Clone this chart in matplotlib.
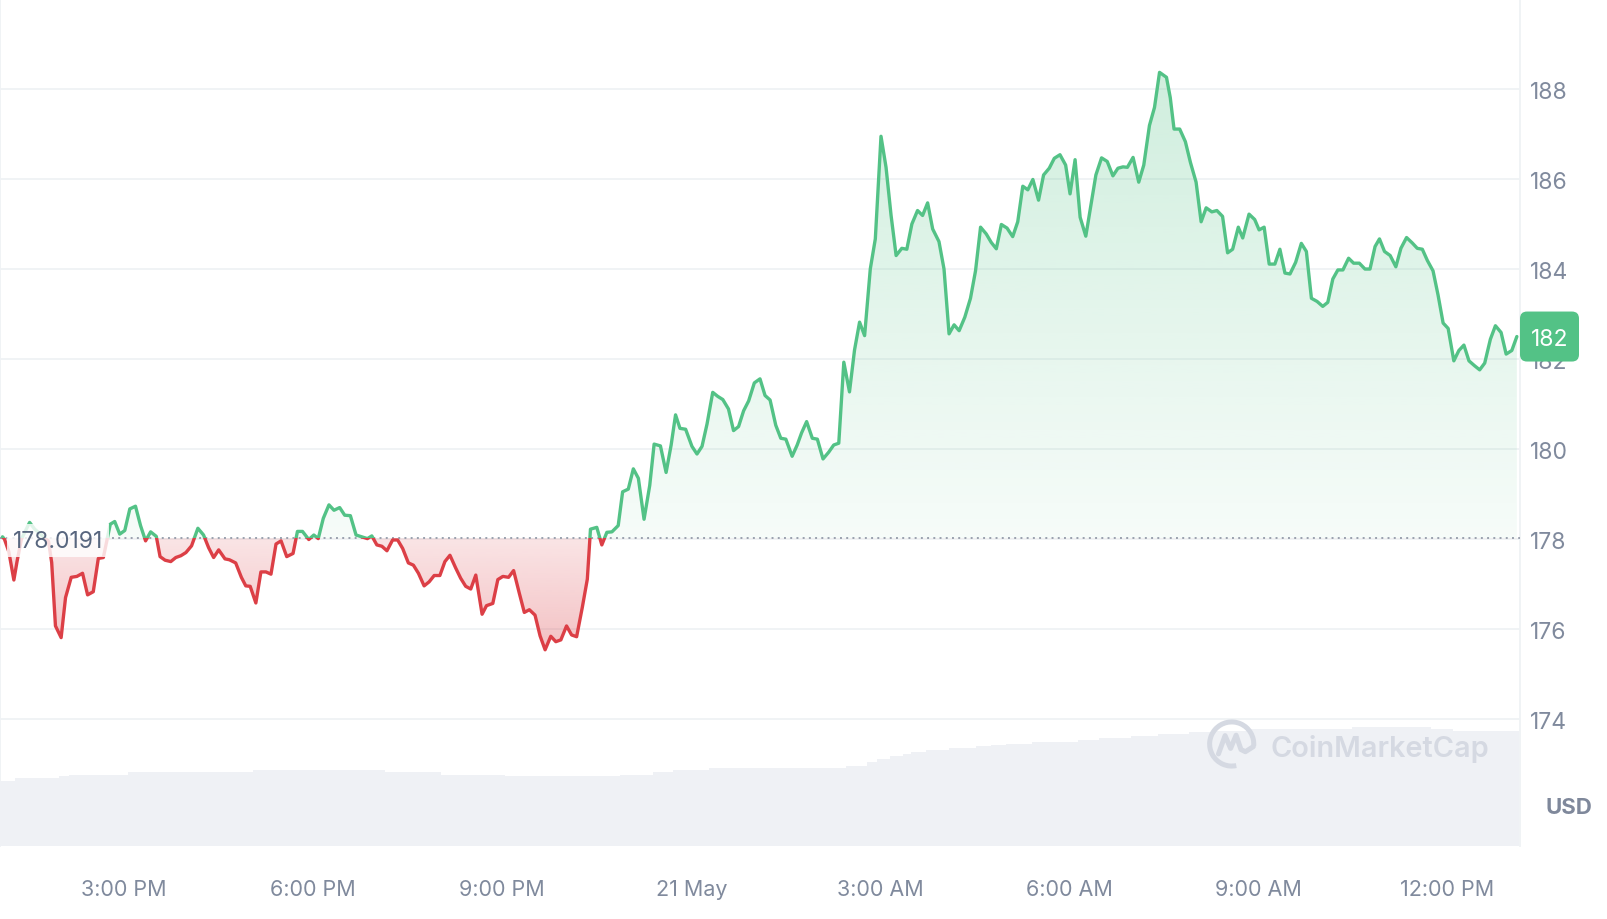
# Price chart, 24h, CoinMarketCap look
import numpy as np
import matplotlib
matplotlib.use('Agg')
from matplotlib import pyplot as plt
from matplotlib.patches import Rectangle, FancyBboxPatch, Arc
from matplotlib.transforms import IdentityTransform
import matplotlib.colors as mcolors

plt.rcParams['font.family'] = ['Inter', 'DejaVu Sans']

# hours since 00:00 on 20 May (24 = 21 May 00:00), price in USD
hours = [13.07, 13.10, 13.17, 13.25, 13.30, 13.37, 13.50, 13.58, 13.68, 13.80,
         13.85, 13.91, 14.00, 14.07, 14.16, 14.25, 14.34, 14.42, 14.51, 14.59,
         14.67, 14.78, 14.85, 14.93, 15.01, 15.09, 15.18, 15.26, 15.34, 15.42,
         15.51, 15.57, 15.65, 15.74, 15.82, 15.90, 15.98, 16.07, 16.17, 16.26,
         16.34, 16.42, 16.50, 16.60, 16.67, 16.77, 16.86, 16.93, 17.00, 17.09,
         17.17, 17.25, 17.33, 17.41, 17.49, 17.58, 17.68, 17.75, 17.83, 17.93,
         18.01, 18.08, 18.16, 18.25, 18.33, 18.42, 18.50, 18.59, 18.68, 18.77,
         18.86, 18.93, 19.01, 19.09, 19.17, 19.26, 19.34, 19.42, 19.51, 19.59,
         19.67, 19.76, 19.84, 19.92, 20.01, 20.09, 20.17, 20.26, 20.34, 20.42,
         20.50, 20.58, 20.68, 20.75, 20.85, 20.93, 21.01, 21.10, 21.18, 21.27,
         21.35, 21.43, 21.52, 21.60, 21.68, 21.77, 21.85, 21.93, 22.02, 22.10,
         22.18, 22.27, 22.35, 22.40, 22.50, 22.58, 22.66, 22.74, 22.84, 22.91,
         23.00, 23.08, 23.16, 23.25, 23.34, 23.41, 23.51, 23.60, 23.68, 23.75,
         23.82, 23.91, 24.01, 24.09, 24.17, 24.25, 24.34, 24.42, 24.50, 24.59,
         24.67, 24.75, 24.83, 24.91, 25.00, 25.09, 25.17, 25.25, 25.34, 25.42,
         25.50, 25.60, 25.68, 25.75, 25.83, 25.92, 26.00, 26.09, 26.18, 26.26,
         26.34, 26.42, 26.51, 26.59, 26.67, 26.75, 26.84, 26.92, 27.01, 27.09,
         27.17, 27.25, 27.34, 27.42, 27.50, 27.59, 27.67, 27.75, 27.83, 27.93,
         28.01, 28.09, 28.17, 28.25, 28.34, 28.43, 28.51, 28.59, 28.68, 28.76,
         28.84, 28.92, 29.01, 29.10, 29.18, 29.26, 29.34, 29.42, 29.51, 29.59,
         29.68, 29.76, 29.85, 29.94, 30.01, 30.09, 30.17, 30.26, 30.34, 30.42,
         30.51, 30.60, 30.69, 30.77, 30.85, 30.92, 31.01, 31.10, 31.18, 31.27,
         31.35, 31.43, 31.54, 31.60, 31.66, 31.75, 31.84, 31.92, 32.01, 32.09,
         32.17, 32.26, 32.34, 32.43, 32.51, 32.59, 32.68, 32.75, 32.85, 32.94,
         33.01, 33.09, 33.17, 33.26, 33.34, 33.42, 33.50, 33.59, 33.68, 33.76,
         33.84, 33.93, 34.02, 34.10, 34.18, 34.26, 34.34, 34.43, 34.51, 34.60,
         34.69, 34.77, 34.85, 34.92, 35.00, 35.09, 35.18, 35.26, 35.35, 35.44,
         35.52, 35.60, 35.68, 35.77, 35.85, 35.93, 36.01, 36.10, 36.18, 36.26,
         36.34, 36.43, 36.51, 36.59, 36.68, 36.76, 36.85, 36.93, 37.02, 37.10]
price = [178.05, 178.00, 177.72, 177.09, 177.50, 178.00, 178.37, 178.22, 178.10, 177.95,
         177.48, 176.07, 175.81, 176.70, 177.15, 177.17, 177.24, 176.76, 176.83, 177.57,
         177.59, 178.33, 178.39, 178.11, 178.19, 178.67, 178.73, 178.30, 177.96, 178.16,
         178.06, 177.61, 177.53, 177.50, 177.59, 177.63, 177.70, 177.85, 178.24, 178.09,
         177.81, 177.59, 177.76, 177.56, 177.54, 177.47, 177.15, 176.96, 176.95, 176.58,
         177.27, 177.27, 177.22, 177.89, 177.96, 177.61, 177.68, 178.17, 178.17, 177.99,
         178.09, 178.01, 178.46, 178.76, 178.64, 178.70, 178.53, 178.52, 178.09, 178.05,
         178.01, 178.07, 177.87, 177.84, 177.74, 177.98, 177.98, 177.79, 177.47, 177.42,
         177.24, 176.96, 177.05, 177.19, 177.19, 177.50, 177.64, 177.36, 177.13, 176.95,
         176.89, 177.20, 176.33, 176.52, 176.57, 177.10, 177.17, 177.15, 177.30, 176.80,
         176.37, 176.43, 176.31, 175.85, 175.54, 175.84, 175.72, 175.76, 176.07, 175.87,
         175.83, 176.48, 177.11, 178.22, 178.26, 177.87, 178.15, 178.16, 178.30, 179.05,
         179.11, 179.56, 179.35, 178.44, 179.19, 180.11, 180.07, 179.48, 180.09, 180.76,
         180.46, 180.44, 180.06, 179.89, 180.06, 180.56, 181.26, 181.17, 181.10, 180.89,
         180.41, 180.50, 180.85, 181.07, 181.47, 181.56, 181.19, 181.09, 180.53, 180.24,
         180.22, 179.84, 180.09, 180.36, 180.61, 180.24, 180.22, 179.78, 179.93, 180.09,
         180.13, 181.93, 181.27, 182.20, 182.82, 182.52, 184.00, 184.67, 186.95, 186.26,
         185.19, 184.30, 184.46, 184.44, 185.00, 185.30, 185.19, 185.47, 184.89, 184.61,
         184.00, 182.56, 182.76, 182.63, 182.93, 183.35, 183.96, 184.93, 184.78, 184.59,
         184.45, 184.99, 184.91, 184.72, 185.05, 185.84, 185.76, 185.99, 185.53, 186.09,
         186.24, 186.46, 186.54, 186.31, 185.67, 186.43, 185.15, 184.73, 185.41, 186.09,
         186.47, 186.39, 186.07, 186.24, 186.27, 186.26, 186.48, 185.93, 186.31, 187.19,
         187.59, 188.37, 188.26, 187.81, 187.11, 187.11, 186.83, 186.37, 185.93, 185.05,
         185.36, 185.27, 185.30, 185.17, 184.36, 184.44, 184.93, 184.69, 185.22, 185.10,
         184.87, 184.93, 184.11, 184.11, 184.44, 183.91, 183.89, 184.15, 184.57, 184.39,
         183.35, 183.28, 183.17, 183.26, 183.78, 183.98, 183.98, 184.24, 184.13, 184.13,
         184.00, 184.00, 184.50, 184.67, 184.39, 184.30, 184.05, 184.46, 184.70, 184.58,
         184.46, 184.44, 184.19, 183.96, 183.42, 182.80, 182.68, 181.96, 182.19, 182.31,
         181.96, 181.85, 181.76, 181.91, 182.44, 182.74, 182.59, 182.11, 182.19, 182.50]
base_price = 178.0191

# volume shading (relative level) as steps between these hours
vol_edges = [13.03, 13.27, 13.97, 14.13, 15.06, 17.05, 19.14, 20.03, 21.05, 22.87,
             23.40, 23.71, 24.28, 26.46, 26.79, 26.95, 27.16, 27.36, 27.49, 27.73,
             28.09, 28.51, 28.76, 29.00, 29.41, 30.14, 30.47, 30.97, 31.41, 31.90,
             32.27, 32.84, 34.49, 35.74, 36.08, 37.14]
vol_level = [0.65, 0.68, 0.70, 0.71, 0.74, 0.76, 0.74, 0.71, 0.70, 0.71,
             0.74, 0.76, 0.78, 0.80, 0.84, 0.87, 0.90, 0.92, 0.94, 0.96,
             0.98, 1.00, 1.01, 1.02, 1.04, 1.06, 1.08, 1.10, 1.12, 1.14,
             1.15, 1.17, 1.19, 1.17, 1.15]

tick_hours = [15, 18, 21, 24, 27, 30, 33, 36]
tick_labels = ['3:00 PM', '6:00 PM', '9:00 PM', '21 May', '3:00 AM', '6:00 AM', '9:00 AM', '12:00 PM']
price_ticks = [174, 176, 178, 180, 182, 184, 186, 188]

green = '#53c286'
red = '#dc3f46'
grid_c = '#eff2f5'
text_c = '#808a9d'

W, H = 1608, 920
x_lim = (13.03, 37.15)
y_lim = (171.18, 190.0)

fig = plt.figure(figsize=(W / 100, H / 100), dpi=100)
rect = [0, 73 / H, 1520 / W, 847 / H]

# volume in the back
ax_vol = fig.add_axes(rect)
ax_vol.bar(vol_edges[:-1], vol_level, width=np.diff(vol_edges), align='edge',
           color='#eff1f5', linewidth=0)
ax_vol.set_xlim(*x_lim)
ax_vol.set_ylim(0, 8.47)
ax_vol.axis('off')

ax = fig.add_axes(rect)
ax.patch.set_alpha(0)
ax.set_xlim(*x_lim)
ax.set_ylim(*y_lim)


def grad_fill(y0, y1, color, a0, a1):
    # gradient image clipped to the area between the line and the base price
    poly = ax.fill_between(hours, price, base_price, facecolor='none', edgecolor='none')
    path = poly.get_paths()[0]
    alphas = np.linspace(a0, a1, 256)
    img = np.zeros((256, 1, 4))
    img[..., :3] = mcolors.to_rgb(color)
    img[:, 0, 3] = alphas
    im = ax.imshow(img, extent=[x_lim[0], x_lim[1], y0, y1], origin='lower',
                   aspect='auto', zorder=1, interpolation='bilinear')
    im.set_clip_path(path, transform=ax.transData)


grad_fill(base_price, 188.6, green, 0.05, 0.28)
grad_fill(175.4, base_price, red, 0.33, 0.14)

for color, y0, y1 in [(green, base_price, 200), (red, 150, base_price)]:
    ln, = ax.plot(hours, price, color=color, lw=2.4, solid_joinstyle='round',
                  solid_capstyle='round', zorder=4)
    ln.set_clip_path(Rectangle((0, y0), 50, y1 - y0, transform=ax.transData))

ax.axhline(base_price, color='#9aa1ae', lw=1.4, ls=(0, (1, 2.2)), zorder=3)
ax.text(13.95, base_price, f'{base_price:.4f}', ha='center', va='center_baseline',
        fontsize=16.5, color='#58667e', zorder=6,
        bbox=dict(boxstyle='square,pad=0.25', fc='white', ec='none', alpha=0.82))

ax.set_ylim(*y_lim)
ax.set_xlim(*x_lim)
ax.set_yticks(price_ticks)
ax.set_xticks(tick_hours)
ax.set_xticklabels(tick_labels)
ax.yaxis.tick_right()
ax.grid(axis='y', color=grid_c, lw=1.3)
ax.set_axisbelow(True)
ax.tick_params(axis='y', length=0, pad=7, labelsize=16.5, labelcolor=text_c)
ax.tick_params(axis='x', length=0, pad=24, labelsize=15.5, labelcolor=text_c)
for s in ['top', 'left', 'right']:
    ax.spines[s].set_color(grid_c)
    ax.spines[s].set_linewidth(1.3)
ax.spines['bottom'].set_visible(False)

# current price badge
y_pix = ax.transData.transform((hours[-1], price[-1]))[1]
badge = FancyBboxPatch((1520, y_pix - 25), 59, 50, boxstyle='round,pad=0,rounding_size=7',
                       transform=IdentityTransform(), fc=green, ec='none', zorder=10)
fig.add_artist(badge)
fig.text(1549.5 / W, y_pix / H, str(int(price[-1])), ha='center', va='center_baseline',
         fontsize=16.5, color='white', zorder=11)

fig.text(1569 / W, 1 - 808 / H, 'USD', ha='center', va='center', fontsize=16,
         fontweight='bold', color='#7f889b')

# watermark
wm = '#d5d9e2'
fig.text(1271 / W, 1 - 749 / H, 'CoinMarketCap', ha='left', va='center', fontsize=20.8,
         fontweight='semibold', color=wm)
lax = fig.add_axes([(1231.7 - 30) / W, (175 - 30) / H, 60 / W, 60 / H])
lax.set_xlim(-1.36, 1.36)
lax.set_ylim(-1.36, 1.36)
lax.axis('off')
lax.add_patch(Arc((0, 0), 2, 2, theta1=-5, theta2=282, lw=3.6, color=wm))
lax.plot([-0.6, -0.3, -0.05, 0.2, 0.42, 0.62, 0.98], [-0.45, 0.38, -0.2, 0.4, -0.25, -0.35, -0.12],
         color=wm, lw=3.6, solid_joinstyle='round', solid_capstyle='round')

fig.savefig('out.png', dpi=100, facecolor='white')
